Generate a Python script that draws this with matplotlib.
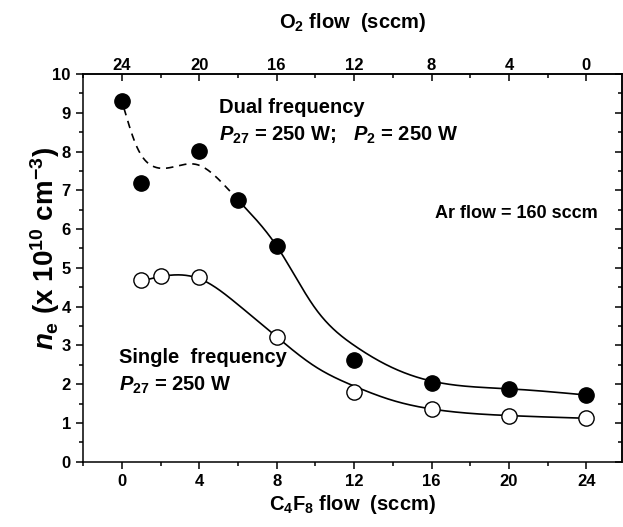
import numpy as np
import matplotlib
matplotlib.use("Agg")
import matplotlib.pyplot as plt
from matplotlib.ticker import MultipleLocator

plt.rcParams['font.family'] = ['Liberation Sans', 'DejaVu Sans']
plt.rcParams['font.weight'] = 'bold'
plt.rcParams['mathtext.fontset'] = 'custom'
plt.rcParams['mathtext.rm'] = 'Liberation Sans:bold'
plt.rcParams['mathtext.it'] = 'Liberation Sans:bold:italic'
plt.rcParams['mathtext.bf'] = 'Liberation Sans:bold'
plt.rcParams['axes.linewidth'] = 1.1

# Measured electron density (x 1e10 cm^-3) vs C4F8 flow (sccm)
c4f8_dual = [0, 1, 4, 6, 8, 12, 16, 20, 24]
ne_dual = [9.30, 7.18, 8.02, 6.75, 5.56, 2.62, 2.04, 1.88, 1.73]
c4f8_single = [1, 2, 4, 8, 12, 16, 20, 24]
ne_single = [4.68, 4.79, 4.76, 3.22, 1.81, 1.35, 1.18, 1.12]

# Trend-curve nodes (guide to the eye); the dual curve is dashed below 6 sccm
dual_trend_x = [0.1, 0.7, 1.6, 2.8, 3.9, 5.0, 6, 8, 10, 12, 14, 16, 20, 24]
dual_trend_y = [9.12, 8.20, 7.62, 7.62, 7.66, 7.28, 6.75, 5.56, 3.95, 3.00,
                2.42, 2.08, 1.88, 1.72]
dual_dash_end = 6.0
single_trend_x = [1, 2.5, 4, 6, 8, 10, 12, 14, 16, 20, 24]
single_trend_y = [4.66, 4.81, 4.72, 4.05, 3.22, 2.45, 1.95, 1.58, 1.36, 1.19, 1.12]

x_ticks = [0, 4, 8, 12, 16, 20, 24]
o2_ticks = [24, 20, 16, 12, 8, 4, 0]


def cubic_curve(x, y, n=600):
    """Natural cubic spline through the nodes."""
    x = np.asarray(x, float)
    y = np.asarray(y, float)
    m = len(x)
    h = np.diff(x)
    A = np.zeros((m, m))
    b = np.zeros(m)
    A[0, 0] = A[-1, -1] = 1.0
    for i in range(1, m - 1):
        A[i, i - 1] = h[i - 1]
        A[i, i] = 2 * (h[i - 1] + h[i])
        A[i, i + 1] = h[i]
        b[i] = 6 * ((y[i + 1] - y[i]) / h[i] - (y[i] - y[i - 1]) / h[i - 1])
    M = np.linalg.solve(A, b)
    xs = np.linspace(x[0], x[-1], n)
    idx = np.clip(np.searchsorted(x, xs) - 1, 0, m - 2)
    x0, x1 = x[idx], x[idx + 1]
    hh = h[idx]
    ys = (M[idx] * (x1 - xs) ** 3 / (6 * hh) + M[idx + 1] * (xs - x0) ** 3 / (6 * hh)
          + (y[idx] / hh - M[idx] * hh / 6) * (x1 - xs)
          + (y[idx + 1] / hh - M[idx + 1] * hh / 6) * (xs - x0))
    return xs, ys


fig = plt.figure(figsize=(6.23, 5.27), dpi=100)
ax = fig.add_axes([0.1337, 0.1239, 0.8648, 0.7357])

lw = 1.2
xs, ys = cubic_curve(dual_trend_x, dual_trend_y)
dash = xs <= dual_dash_end
ax.plot(xs[dash], ys[dash], color='black', lw=lw, dashes=(4.5, 3.5), zorder=2)
ax.plot(xs[~dash], ys[~dash], color='black', lw=lw, zorder=2)
xs, ys = cubic_curve(single_trend_x, single_trend_y)
ax.plot(xs, ys, color='black', lw=lw, zorder=2)

ax.plot(c4f8_dual, ne_dual, 'o', ms=11, mfc='black', mec='black',
        mew=1.0, ls='none', zorder=3)
ax.plot(c4f8_single, ne_single, 'o', ms=11, mfc='white', mec='black',
        mew=1.0, ls='none', zorder=3)

ax.set_xlim(-2, 25.85)
ax.set_ylim(0, 10)
ax.set_xticks(x_ticks)
ax.xaxis.set_minor_locator(MultipleLocator(2))
ax.yaxis.set_major_locator(MultipleLocator(1))
ax.yaxis.set_minor_locator(MultipleLocator(0.5))
ax.tick_params(which='major', direction='out', length=5, width=1.1,
               labelsize=12, pad=4)
ax.tick_params(which='minor', direction='out', length=3, width=1.1)
for lab in ax.get_xticklabels() + ax.get_yticklabels():
    lab.set_fontweight('bold')

ax.set_xlabel(r'C$_4$F$_8$ flow  (sccm)', fontsize=14.5, fontweight='bold',
              labelpad=3)
ax.set_ylabel(r'$\mathit{n}_{\mathrm{e}}$ (x 10$^{10}$ cm$^{-3}$)',
              fontsize=20, fontweight='bold')
ax.yaxis.set_label_coords(-0.04, 0.55)

top = ax.secondary_xaxis('top', functions=(lambda v: 24 - v, lambda v: 24 - v))
top.set_xticks(o2_ticks)
top.xaxis.set_minor_locator(MultipleLocator(2))
top.tick_params(which='major', direction='in', length=5, width=1.1,
                labelsize=12, pad=0.5)
top.tick_params(which='minor', direction='in', length=3, width=1.1)
for lab in top.get_xticklabels():
    lab.set_fontweight('bold')
top.set_xlabel(r'O$_2$ flow  (sccm)', fontsize=14.5, fontweight='bold',
               labelpad=22)

right = ax.secondary_yaxis('right')
right.yaxis.set_major_locator(MultipleLocator(1))
right.yaxis.set_minor_locator(MultipleLocator(0.5))
right.tick_params(which='major', direction='in', length=5, width=1.1,
                  labelright=False)
right.tick_params(which='minor', direction='in', length=3, width=1.1)

ax.text(5.0, 9.0, 'Dual frequency', fontsize=14.5, fontweight='bold',
        ha='left', va='baseline')
ax.text(5.0, 8.27, r'$\mathit{P}_{27}$ = 250 W;   $\mathit{P}_{2}$ = 250 W',
        fontsize=14.5, ha='left', va='baseline')
ax.text(16.2, 6.28, 'Ar flow = 160 sccm', fontsize=13, fontweight='bold',
        ha='left', va='baseline')
ax.text(-0.15, 2.55, 'Single  frequency', fontsize=14.5, fontweight='bold',
        ha='left', va='baseline')
ax.text(-0.15, 1.83, r'$\mathit{P}_{27}$ = 250 W', fontsize=14.5,
        ha='left', va='baseline')

fig.savefig('out.png', dpi=100)
